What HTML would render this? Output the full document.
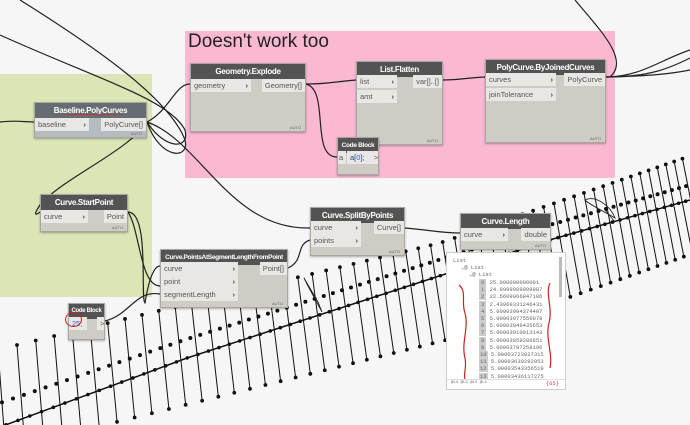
<!DOCTYPE html>
<html><head><meta charset="utf-8"><style>
*{margin:0;padding:0;box-sizing:border-box}
html{width:690px;height:425px;overflow:hidden}
body{width:690px;height:425px;overflow:hidden;background:#f6f6f6;font-family:"Liberation Sans",sans-serif;position:relative}
.g{position:absolute}
.n{position:absolute;background:#cfccc5;border:1px solid #a9a7a2;box-shadow:0 1px 2px rgba(0,0,0,.3)}
.h{background:#535353;color:#fff;font-size:8px;font-weight:bold;text-align:center;height:15px;line-height:15px;white-space:nowrap;overflow:hidden;letter-spacing:-0.3px}
.p{position:absolute;background:#e9e7e3;font-size:7.5px;color:#555;height:13px;line-height:13px;padding-left:3px}
.p b{position:absolute;right:3px;font-weight:bold;color:#444}
.o{position:absolute;background:#e9e7e3;font-size:7.5px;color:#555;height:13px;line-height:13px;padding:0 3px;text-align:right}
.a{position:absolute;right:4px;bottom:1px;font-size:4px;color:#666}
svg{position:absolute;left:0;top:0;overflow:hidden}
</style></head><body>
<div class="g" style="left:0;top:74px;width:152px;height:223px;background:#dbe5b6"></div>
<div class="g" style="left:185px;top:31px;width:430px;height:147px;background:#fbb8d3"></div>
<div class="g" style="left:188px;top:31px;font-size:19px;color:#222">Doesn't work too</div>

<svg id="hatch" width="690" height="425" viewBox="0 0 690 425"></svg>

<svg width="690" height="425" fill="none" stroke="#222" stroke-width="1.2">
<path d="M0,122 C15,120 25,122 34,122"/>
<path d="M20,0 C100,50 170,100 185,140 C190,160 160,160 147,122"/>
<path d="M0,35 C100,80 170,100 185,130 C190,150 165,150 147,122"/>
<path d="M147,122 C170,110 175,84 190,84"/>
<path d="M147,122 C130,150 60,180 40,205 C30,220 40,212 40,212"/>
<path d="M147,122 C200,140 230,230 310,228"/>
<path d="M128,212 C150,212 140,300 145,303 C145,303 150,266 160,266"/>
<path d="M128,212 C140,230 140,286 160,286"/>
<path d="M105,321 C130,315 135,290 160,294"/>
<path d="M288,268 C305,260 295,245 310,240"/>
<path d="M405,228 C430,230 440,233 460,233"/>
<path d="M306,84 C330,84 330,82 356,80"/>
<path d="M306,84 C330,90 310,157 337,157"/>
<path d="M443,80 C460,80 465,78 485,77"/>
<path d="M606,77 C640,77 660,60 690,50"/><path d="M606,77 C650,77 670,68 690,58"/><path d="M606,77 C650,76 670,74 690,70"/>
<path d="M575,0 C600,30 630,60 610,77"/>
<path d="M585,200 C595,195 610,205 615,218 C605,212 590,205 585,200 Z" stroke-width="0.9"/>
<path d="M605,210 L615,222" stroke-width="0.9"/>
<path d="M304,278 L318,302 L322,312 L308,286 Z" stroke-width="0.9"/>
</svg>

<div class="n" style="left:34px;top:102px;width:113px;height:36px;background:#b5bcc0"><div class="h" style="background:#656d72">Baseline.PolyCurves</div>
<div class="p" style="left:0;top:15px;width:54px">baseline<b>›</b></div><div class="o" style="right:0;top:15px">PolyCurve[]</div><div class="a">AUTO</div></div>
<div style="position:absolute;left:60px;top:113px;width:62px;height:2px;border-bottom:1.5px solid #c33;border-radius:50%"></div>

<div class="n" style="left:190px;top:63px;width:116px;height:69px"><div class="h">Geometry.Explode</div>
<div class="p" style="left:0;top:15px;width:60px">geometry<b>›</b></div><div class="o" style="right:0;top:15px">Geometry[]</div><div class="a">AUTO</div></div>

<div class="n" style="left:356px;top:61px;width:87px;height:84px"><div class="h">List.Flatten</div>
<div class="p" style="left:0;top:13px;width:40px">list<b>›</b></div><div class="p" style="left:0;top:28px;width:40px">amt<b>›</b></div><div class="o" style="right:0;top:13px">var[]..[]</div><div class="a">AUTO</div></div>

<div class="n" style="left:485px;top:59px;width:121px;height:84px"><div class="h">PolyCurve.ByJoinedCurves</div>
<div class="p" style="left:0;top:13px;width:70px">curves<b>›</b></div><div class="p" style="left:0;top:28px;width:70px">joinTolerance<b>›</b></div><div class="o" style="right:0;top:13px">PolyCurve</div><div class="a">AUTO</div></div>

<div class="n" style="left:337px;top:137px;width:42px;height:38px"><div class="h" style="font-size:6.5px">Code Block</div>
<div class="p" style="left:0;top:13px;width:8px;padding-left:1px">a</div><div class="p" style="left:9px;top:13px;width:24px;color:#248">a[<span style="color:#36c">0</span>];</div><div class="o" style="right:0;top:13px;width:7px">&gt;</div></div>

<div class="n" style="left:40px;top:194px;width:88px;height:38px"><div class="h">Curve.StartPoint</div>
<div class="p" style="left:0;top:15px;width:47px">curve<b>›</b></div><div class="o" style="right:0;top:15px">Point</div><div class="a">AUTO</div></div>

<div class="n" style="left:310px;top:207px;width:95px;height:49px"><div class="h">Curve.SplitByPoints</div>
<div class="p" style="left:0;top:13px;width:50px">curve<b>›</b></div><div class="p" style="left:0;top:26px;width:50px">points<b>›</b></div><div class="o" style="right:0;top:13px">Curve[]</div><div class="a">AUTO</div></div>

<div class="n" style="left:460px;top:213px;width:91px;height:37px"><div class="h">Curve.Length</div>
<div class="p" style="left:0;top:14px;width:47px">curve<b>›</b></div><div class="o" style="right:0;top:14px">double</div><div class="a">AUTO</div></div>

<div class="n" style="left:160px;top:249px;width:128px;height:59px"><div class="h" style="font-size:6.6px;letter-spacing:-0.35px">Curve.PointsAtSegmentLengthFromPoint</div>
<div class="p" style="left:0;top:12px;width:77px">curve<b>›</b></div><div class="p" style="left:0;top:25px;width:77px">point<b>›</b></div><div class="p" style="left:0;top:38px;width:77px">segmentLength<b>›</b></div><div class="o" style="right:0;top:12px">Point[]</div><div class="a">AUTO</div></div>

<div class="n" style="left:68px;top:303px;width:37px;height:37px"><div class="h" style="font-size:6px;letter-spacing:-0.3px">Code Block</div>
<div class="p" style="left:0;top:13px;width:18px;color:#36c">25;</div><div class="o" style="right:0;top:13px;width:7px">&gt;</div></div>
<div style="position:absolute;left:65px;top:312px;width:17px;height:15px;border:1.5px solid #c22;border-radius:50%"></div>

<div style="position:absolute;left:446px;top:252px;width:120px;height:138px;background:#fff;border:1px solid #ccc;font-family:'Liberation Mono',monospace;font-size:5.5px;color:#666">
<div style="position:absolute;left:6px;top:4px">List</div>
<div style="position:absolute;left:14px;top:11px">⌄@ List</div>
<div style="position:absolute;left:22px;top:18px">⌄@ List</div>
<div style="position:absolute;left:32px;top:26px;line-height:7.2px">
<div><span style="background:#ccc;padding:0 2px">0</span> 25.000000000001</div>
<div><span style="background:#ccc;padding:0 2px">1</span> 24.9999999999987</div>
<div><span style="background:#ccc;padding:0 2px">2</span> 22.5609066847186</div>
<div><span style="background:#ccc;padding:0 2px">3</span> 2.43969331246431</div>
<div><span style="background:#ccc;padding:0 2px">4</span> 5.00003994374407</div>
<div><span style="background:#ccc;padding:0 2px">5</span> 5.00003977556078</div>
<div><span style="background:#ccc;padding:0 2px">6</span> 5.00003949435653</div>
<div><span style="background:#ccc;padding:0 2px">7</span> 5.00003910013143</div>
<div><span style="background:#ccc;padding:0 2px">8</span> 5.00003859286651</div>
<div><span style="background:#ccc;padding:0 2px">9</span> 5.00003797258196</div>
<div><span style="background:#ccc;padding:0 1px">10</span> 5.00003723927315</div>
<div><span style="background:#ccc;padding:0 1px">11</span> 5.00003639292953</div>
<div><span style="background:#ccc;padding:0 1px">12</span> 5.00003543356519</div>
<div><span style="background:#ccc;padding:0 1px">13</span> 5.00003436117275</div>
</div>
<div style="position:absolute;right:3px;top:4px;width:3px;height:40px;background:#bbb"></div>
<div style="position:absolute;left:0;right:0;top:126px;border-top:1px solid #ddd"></div>
<div style="position:absolute;left:4px;top:128px;font-size:4px">@L4 @L3 @L2 @L1</div>
<div style="position:absolute;right:6px;top:127px;color:#c44">{65}</div>
<svg width="120" height="138" fill="none" stroke="#c22" stroke-width="1.2"><path d="M12,32 C20,38 14,50 18,60 C22,75 14,90 18,105 C20,115 16,122 18,126"/><path d="M103,30 C98,40 106,55 102,70 C98,85 106,100 103,115"/></svg>
</div>

<script>
function lerp(pts,x){for(var i=0;i<pts.length-1;i++){var a=pts[i],b=pts[i+1];if(x<=b[0]||i==pts.length-2){return a[1]+(b[1]-a[1])*(x-a[0])/(b[0]-a[0]);}}}
var top_=[[17,345],[440,243],[687,157]];
var solid=[[0,427],[187,358],[553,239],[690,200]];
var dotted=[[0,403],[187,339],[553,224],[690,185]];
var s='';
var x=-2;
while(x<690){
 var f=Math.max(0,x)/690;
 var t=lerp(top_,x), len=100-8*f, sl=0.075+0.125*f;
 var bx=x+sl*len, by=t+len;
 if(by>425){bx=x+sl*(425-t);by=425;}
 s+='<line x1="'+x+'" y1="'+t+'" x2="'+bx+'" y2="'+by+'"/>';
 s+='<circle cx="'+x+'" cy="'+t+'" r="1.4" fill="#111"/>';
 if(by<424)s+='<circle cx="'+bx+'" cy="'+by+'" r="1.4" fill="#111"/>';
 x+=19-11*f;
}
var d='M'+solid.map(function(p){return p.join(',')}).join(' L');
s+='<path d="'+d+'" fill="none" stroke-width="1.5"/>';
x=6;while(x<690){var f=x/690;s+='<circle cx="'+x+'" cy="'+lerp(solid,x)+'" r="1.3" fill="#111"/>';x+=12-5*f;}
x=2;while(x<690){var f=x/690;s+='<circle cx="'+x+'" cy="'+lerp(dotted,x)+'" r="1.5" fill="#111"/>';x+=11-4*f;}
document.getElementById('hatch').innerHTML='<g stroke="#111" stroke-width="1">'+s+'</g>';
</script>
</body></html>
